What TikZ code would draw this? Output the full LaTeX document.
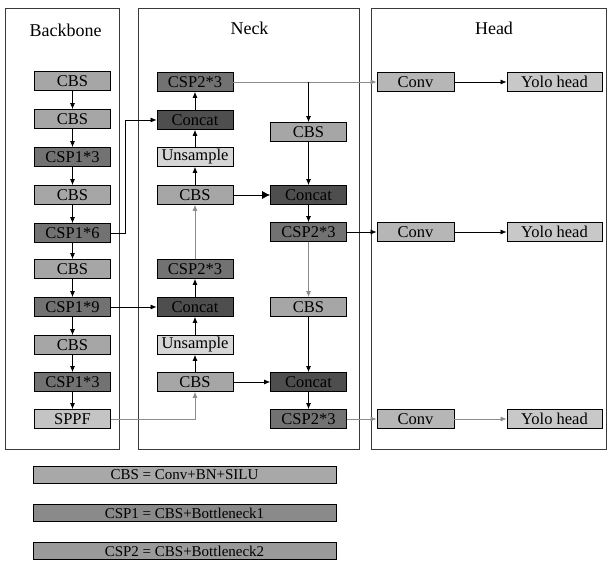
\documentclass[tikz,border=0pt]{standalone}
\usepackage{fontspec}
\setmainfont{Liberation Serif}
\usetikzlibrary{arrows.meta}

\definecolor{cbsgray}{HTML}{A6A6A6}
\definecolor{cspgray}{HTML}{727272}
\definecolor{catgray}{HTML}{4E4E4E}
\definecolor{upsgray}{HTML}{D6D6D6}
\definecolor{sppfgray}{HTML}{C4C4C4}
\definecolor{convgray}{HTML}{B6B6B6}
\definecolor{yologray}{HTML}{C8C8C8}
\definecolor{legA}{HTML}{A8A8A8}
\definecolor{legB}{HTML}{8A8A8A}
\definecolor{legC}{HTML}{9A9A9A}
\definecolor{panelline}{HTML}{3A3A3A}
\definecolor{linkgray}{HTML}{8C8C8C}

\tikzset{
  blk/.style={draw=black, line width=0.8pt, minimum width=76pt, minimum height=19pt,
              inner sep=0pt, font=\fontsize{16.5}{17}\selectfont},
  cbsbox/.style={blk, fill=cbsgray},
  cspbox/.style={blk, fill=cspgray},
  catbox/.style={blk, fill=catgray},
  upsbox/.style={blk, fill=upsgray},
  sppfbox/.style={blk, fill=sppfgray},
  convbox/.style={blk, fill=convgray, minimum width=77pt},
  yolobox/.style={blk, fill=yologray, minimum width=95pt},
  legbox/.style={blk, minimum width=303pt, minimum height=17.5pt, font=\fontsize{15}{16}\selectfont},
  panel/.style={draw=panelline, line width=0.9pt},
  title/.style={anchor=base, inner sep=0pt, font=\fontsize{18}{19}\selectfont},
  link/.style={-{Latex[length=6pt,width=5pt]}, line width=0.7pt, draw=black},
  biglink/.style={-{Latex[length=8pt,width=8pt]}, line width=0.7pt, draw=black},
  glink/.style={link, draw=linkgray},
}

\begin{document}
\begin{tikzpicture}[x=1pt, y=-1pt]
\useasboundingbox (0,0) rectangle (608,561);

% panels
\draw[panel] (5,8) rectangle (119,449);
\draw[panel] (138,8) rectangle (359,449);
\draw[panel] (371,8) rectangle (606,449);
\node[title] (tb) at (65.5,37) {Backbone};
\node[title] (tn) at (249.5,35) {Neck};
\node[title] (th) at (494,35) {Head};

% backbone
\node[cbsbox]  (b1)  at (72.5,81)  {CBS};
\node[cbsbox]  (b2)  at (72.5,119) {CBS};
\node[cspbox]  (b3)  at (72.5,157) {CSP1*3};
\node[cbsbox]  (b4)  at (72.5,195) {CBS};
\node[cspbox]  (b5)  at (72.5,233) {CSP1*6};
\node[cbsbox]  (b6)  at (72.5,269) {CBS};
\node[cspbox]  (b7)  at (72.5,307) {CSP1*9};
\node[cbsbox]  (b8)  at (72.5,345) {CBS};
\node[cspbox]  (b9)  at (72.5,382) {CSP1*3};
\node[sppfbox] (b10) at (72.5,419) {SPPF};

% neck, upward path
\node[cspbox] (n1) at (195,82)  {CSP2*3};
\node[catbox] (n2) at (195,120) {Concat};
\node[upsbox] (n3) at (195,157) {Unsample};
\node[cbsbox] (n4) at (195,195) {CBS};
\node[cspbox] (n5) at (195,269) {CSP2*3};
\node[catbox] (n6) at (195,307) {Concat};
\node[upsbox] (n7) at (195,345) {Unsample};
\node[cbsbox] (n8) at (195,382) {CBS};

% neck, downward path
\node[cbsbox] (r1) at (308.5,132) {CBS};
\node[catbox] (r2) at (308.5,195) {Concat};
\node[cspbox] (r3) at (308.5,232) {CSP2*3};
\node[cbsbox] (r4) at (308.5,307) {CBS};
\node[catbox] (r5) at (308.5,382) {Concat};
\node[cspbox] (r6) at (308.5,419) {CSP2*3};

% head
\node[convbox] (c1) at (415.5,82)  {Conv};
\node[convbox] (c2) at (415.5,232) {Conv};
\node[convbox] (c3) at (415.5,419) {Conv};
\node[yolobox] (h1) at (554.5,82)  {Yolo head};
\node[yolobox] (h2) at (554.5,232) {Yolo head};
\node[yolobox] (h3) at (554.5,419) {Yolo head};

% legend
\node[legbox, fill=legA] (l1) at (184.5,475) {CBS = Conv+BN+SILU};
\node[legbox, fill=legB] (l2) at (184.5,513) {CSP1 = CBS+Bottleneck1};
\node[legbox, fill=legC] (l3) at (184.5,551) {CSP2 = CBS+Bottleneck2};

% backbone chain
\foreach \a/\b in {b1/b2,b2/b3,b3/b4,b4/b5,b5/b6,b6/b7,b7/b8,b8/b9,b9/b10}
  \draw[link] (\a) -- (\b);

% backbone to neck
\draw[link] (b5.east) -- ++(14,0) |- (n2.west);
\draw[link] (b7) -- (n6);
\draw[glink] (b10.east) -| (n8.south);

% neck upward path
\draw[link] (n8) -- (n7);
\draw[link] (n7) -- (n6);
\draw[link] (n6) -- (n5);
\draw[glink] (n5) -- (n4);
\draw[link] (n4) -- (n3);
\draw[link] (n3) -- (n2);
\draw[link] (n2) -- (n1);

% neck downward path
\draw[glink] (n1) -- (c1);
\draw[link] (r1.north |- n1.east) -- (r1.north);
\draw[biglink] (n4) -- (r2);
\draw[link] (r1) -- (r2);
\draw[link] (r2) -- (r3);
\draw[link] (r3) -- (c2);
\draw[glink] (r3) -- (r4);
\draw[link] (r4) -- (r5);
\draw[link] (n8) -- (r5);
\draw[link] (r5) -- (r6);
\draw[glink] (r6) -- (c3);

% head
\draw[link] (c1) -- (h1);
\draw[link] (c2) -- (h2);
\draw[glink] (c3) -- (h3);
\end{tikzpicture}
\end{document}
